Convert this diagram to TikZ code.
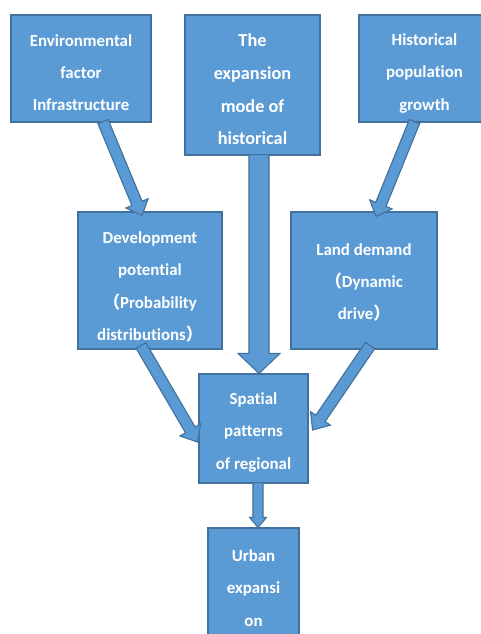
\documentclass[tikz,border=0pt]{standalone}
\usepackage{fontspec}
\setmainfont{Carlito}[Ligatures=NoCommon]
\newfontfamily\cjk{Noto Sans CJK SC}
\usetikzlibrary{calc}
\definecolor{boxblue}{RGB}{91,155,213}
\definecolor{boxline}{RGB}{65,113,156}
\tikzset{
  box/.style={draw=boxline,fill=boxblue,line width=0.8pt,inner sep=0pt},
  txt/.style={text=white,font=\bfseries\fontsize{12}{23}\selectfont,align=center,inner sep=0pt},
  big text/.style={font=\bfseries\fontsize{13}{23.2}\selectfont},
  fat/.style={draw=boxline,fill=boxblue,line width=0.8pt,line join=miter},
}
% block arrow: from, to, half shaft, half head, head length
\newcommand\fatarrow[5]{%
  \coordinate (fa-base) at ($(#2)!#5!(#1)$);
  \draw[fat] ($(#1)!#3!90:(#2)$) -- ($(fa-base)!#3!90:(#2)$) -- ($(fa-base)!#4!90:(#2)$)
    -- (#2) -- ($(fa-base)!#4!-90:(#2)$) -- ($(fa-base)!#3!-90:(#2)$) -- ($(#1)!#3!-90:(#2)$) -- cycle;
}
\newcommand\paren[1]{{\cjk #1}}

\begin{document}
\begin{tikzpicture}[x=0.025cm,y=-0.025cm]
  \useasboundingbox[fill=white] (0,0) rectangle (481,634);
  % inputs
  \node[box,minimum width=3.5cm,minimum height=2.675cm] (env) at (81,68.5) {};
  \node[txt] (env-text) at ($(env)+(0,4)$) {Environmental\\factor\\Infrastructure};
  \node[box,minimum width=3.375cm,minimum height=3.5cm] (hist) at (252.5,85) {};
  \node[txt,big text] (hist-text) at ($(hist)+(0,4.5)$) {The\\expansion\\mode of\\historical};
  \node[box,minimum width=3.275cm,minimum height=2.675cm] (pop) at (424.5,68.5) {};
  \node[txt] (pop-text) at ($(pop)+(0,5)$) {Historical\\population\\growth};
  % middle row
  \node[box,minimum width=3.6cm,minimum height=3.425cm] (dev) at (150,280.5) {};
  \node[txt] (dev-text) at ($(dev)+(0,6.5)$)
    {Development\\potential\\\paren{（}Probability\\distributions\paren{）}};
  \node[box,minimum width=3.65cm,minimum height=3.425cm] (land) at (364,280.5) {};
  \node[txt] (land-text) at ($(land)+(0,2)$) {Land demand\\\paren{（}Dynamic\\drive\paren{）}};
  % outputs
  \node[box,minimum width=2.725cm,minimum height=2.725cm] (spat) at (253.5,428.5) {};
  \node[txt] (spat-text) at ($(spat)+(0,4)$) {Spatial\\patterns\\of regional};
  \node[box,minimum width=2.275cm,minimum height=2.95cm] (urban) at (253.5,587) {};
  \node[txt] (urban-text) at ($(urban)+(0,1)$) {Urban\\expansi\\on};

  % arrow ends
  \coordinate (env-out) at ($(env.south)+(22,-1)$);
  \coordinate (dev-in) at ($(dev.north)+(-8,4)$);
  \coordinate (hist-out) at ($(hist.south)+(6.5,-1)$);
  \coordinate (spat-in) at ($(spat.north)+(5.5,0)$);
  \coordinate (pop-out) at ($(pop.south)+(-10,-1)$);
  \coordinate (land-in) at ($(land.north)+(12,5)$);
  \coordinate (dev-out) at ($(dev.south)+(-9,-4)$);
  \coordinate (spat-left) at ($(spat.west)+(-1,13.5)$);
  \coordinate (land-out) at ($(land.south)+(6,-4)$);
  \coordinate (spat-right) at ($(spat.east)+(4,1.5)$);
  \coordinate (spat-out) at ($(spat.south)+(4.5,-1)$);
  \coordinate (urban-in) at ($(urban.north)+(4.5,0)$);

  \fatarrow{env-out}{dev-in}{0.1375cm}{0.3cm}{0.325cm}
  \fatarrow{hist-out}{spat-in}{0.25cm}{0.525cm}{0.5cm}
  \fatarrow{pop-out}{land-in}{0.1375cm}{0.3cm}{0.325cm}
  \fatarrow{dev-out}{spat-left}{0.14cm}{0.3cm}{0.35cm}
  \fatarrow{land-out}{spat-right}{0.14cm}{0.3cm}{0.35cm}
  \fatarrow{spat-out}{urban-in}{0.125cm}{0.21cm}{0.25cm}
\end{tikzpicture}
\end{document}
